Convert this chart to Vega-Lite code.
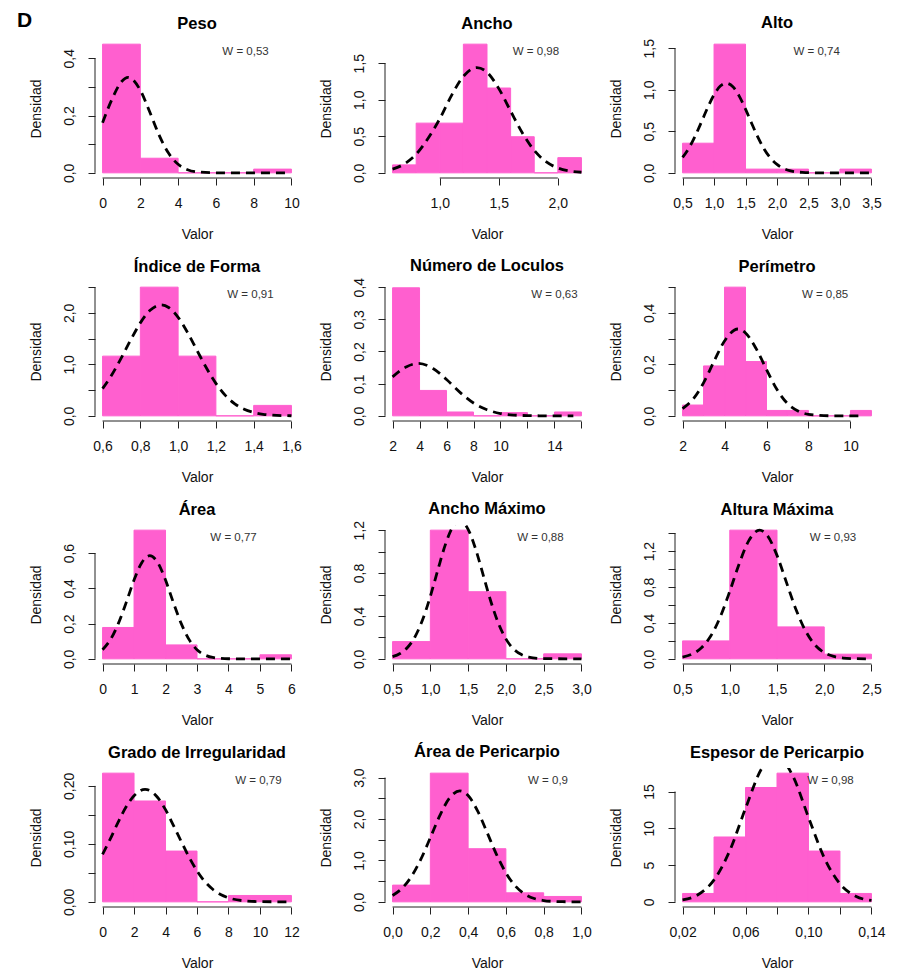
{
  "$schema": "https://vega.github.io/schema/vega-lite/v6.json",
  "autosize": {"type": "pad"},
  "padding": {"left": 17, "top": 10, "right": 5, "bottom": 5},
  "background": "white",
  "title": {"text": "D", "anchor": "start", "frame": "bounds", "fontSize": 21, "fontWeight": "bold", "offset": -16.5, "dx": -12},
  "bounds": "flush",
  "columns": 3,
  "spacing": {"row": 104, "column": 86},
  "datasets": {
    "h1": [{"x0":0,"x1":2,"d":0.449},{"x0":2,"x1":4,"d":0.051},{"x0":4,"x1":6,"d":0},{"x0":6,"x1":8,"d":0},{"x0":8,"x1":10,"d":0.013}],
    "c1": [{"x":0,"d":0.175},{"x":0.5,"d":0.257},{"x":1,"d":0.318},{"x":1.36,"d":0.333},{"x":2,"d":0.288},{"x":2.5,"d":0.212},{"x":3,"d":0.131},{"x":3.5,"d":0.068},{"x":4,"d":0.030},{"x":4.5,"d":0.011},{"x":5,"d":0.0033},{"x":6,"d":0.0002},{"x":7,"d":0},{"x":8,"d":0},{"x":9,"d":0},{"x":9.7,"d":0}],
    "h2": [{"x0":0.6,"x1":0.8,"d":0.109},{"x0":0.8,"x1":1.0,"d":0.68},{"x0":1.0,"x1":1.2,"d":0.68},{"x0":1.2,"x1":1.4,"d":1.76},{"x0":1.4,"x1":1.6,"d":1.16},{"x0":1.6,"x1":1.8,"d":0.494},{"x0":1.8,"x1":2.0,"d":0},{"x0":2.0,"x1":2.2,"d":0.208}],
    "c2": [{"x":0.6,"d":0.051},{"x":0.7,"d":0.122},{"x":0.8,"d":0.255},{"x":0.9,"d":0.47},{"x":1.0,"d":0.74},{"x":1.1,"d":1.06},{"x":1.2,"d":1.32},{"x":1.314,"d":1.44},{"x":1.4,"d":1.377},{"x":1.5,"d":1.152},{"x":1.6,"d":0.845},{"x":1.7,"d":0.544},{"x":1.8,"d":0.307},{"x":1.9,"d":0.152},{"x":2.0,"d":0.066},{"x":2.1,"d":0.025},{"x":2.2,"d":0.008}],
    "h3": [{"x0":0.5,"x1":1.0,"d":0.357},{"x0":1.0,"x1":1.5,"d":1.549},{"x0":1.5,"x1":2.0,"d":0.045},{"x0":2.0,"x1":2.5,"d":0.045},{"x0":2.5,"x1":3.0,"d":0},{"x0":3.0,"x1":3.5,"d":0.045}],
    "c3": [{"x":0.5,"d":0.186},{"x":0.6,"d":0.297},{"x":0.7,"d":0.443},{"x":0.8,"d":0.612},{"x":0.9,"d":0.787},{"x":1.0,"d":0.94},{"x":1.1,"d":1.045},{"x":1.194,"d":1.079},{"x":1.3,"d":1.036},{"x":1.4,"d":0.924},{"x":1.5,"d":0.767},{"x":1.6,"d":0.591},{"x":1.7,"d":0.424},{"x":1.8,"d":0.282},{"x":1.9,"d":0.175},{"x":2.0,"d":0.101},{"x":2.2,"d":0.027},{"x":2.4,"d":0.0053},{"x":2.6,"d":0.0007},{"x":3.0,"d":0},{"x":3.5,"d":0}],
    "h4": [{"x0":0.6,"x1":0.8,"d":1.16},{"x0":0.8,"x1":1.0,"d":2.5},{"x0":1.0,"x1":1.2,"d":1.16},{"x0":1.2,"x1":1.4,"d":0},{"x0":1.4,"x1":1.6,"d":0.203}],
    "c4": [{"x":0.6,"d":0.529},{"x":0.65,"d":0.803},{"x":0.7,"d":1.132},{"x":0.75,"d":1.482},{"x":0.8,"d":1.806},{"x":0.85,"d":2.045},{"x":0.91,"d":2.155},{"x":0.95,"d":2.105},{"x":1.0,"d":1.914},{"x":1.05,"d":1.619},{"x":1.1,"d":1.272},{"x":1.15,"d":0.929},{"x":1.2,"d":0.631},{"x":1.25,"d":0.398},{"x":1.3,"d":0.234},{"x":1.35,"d":0.127},{"x":1.4,"d":0.065},{"x":1.45,"d":0.030},{"x":1.5,"d":0.013},{"x":1.6,"d":0.002}],
    "h5": [{"x0":2,"x1":4,"d":0.398},{"x0":4,"x1":6,"d":0.079},{"x0":6,"x1":8,"d":0.012},{"x0":8,"x1":10,"d":0},{"x0":10,"x1":12,"d":0.010},{"x0":12,"x1":14,"d":0},{"x0":14,"x1":16,"d":0.012}],
    "c5": [{"x":2,"d":0.121},{"x":3,"d":0.152},{"x":3.9,"d":0.163},{"x":5,"d":0.147},{"x":6,"d":0.113},{"x":7,"d":0.073},{"x":8,"d":0.040},{"x":9,"d":0.019},{"x":10,"d":0.0073},{"x":11,"d":0.0024},{"x":12,"d":0.0007},{"x":13,"d":0.0002},{"x":14,"d":0},{"x":15.4,"d":0}],
    "h6": [{"x0":2,"x1":3,"d":0.042},{"x0":3,"x1":4,"d":0.194},{"x0":4,"x1":5,"d":0.5},{"x0":5,"x1":6,"d":0.211},{"x0":6,"x1":7,"d":0.021},{"x0":7,"x1":8,"d":0.021},{"x0":8,"x1":9,"d":0},{"x0":9,"x1":10,"d":0},{"x0":10,"x1":11,"d":0.021}],
    "c6": [{"x":2,"d":0.028},{"x":2.5,"d":0.065},{"x":3,"d":0.128},{"x":3.5,"d":0.212},{"x":4,"d":0.291},{"x":4.64,"d":0.3375},{"x":5,"d":0.322},{"x":5.5,"d":0.262},{"x":6,"d":0.18},{"x":6.5,"d":0.102},{"x":7,"d":0.048},{"x":7.5,"d":0.019},{"x":8,"d":0.006},{"x":9,"d":0.0004},{"x":10.5,"d":0}],
    "h7": [{"x0":0,"x1":1,"d":0.178},{"x0":1,"x1":2,"d":0.73},{"x0":2,"x1":3,"d":0.079},{"x0":3,"x1":4,"d":0},{"x0":4,"x1":5,"d":0},{"x0":5,"x1":6,"d":0.023}],
    "c7": [{"x":0,"d":0.052},{"x":0.25,"d":0.109},{"x":0.5,"d":0.2},{"x":0.75,"d":0.319},{"x":1,"d":0.447},{"x":1.25,"d":0.547},{"x":1.5,"d":0.585},{"x":1.75,"d":0.547},{"x":2,"d":0.447},{"x":2.25,"d":0.319},{"x":2.5,"d":0.2},{"x":2.75,"d":0.109},{"x":3,"d":0.052},{"x":3.25,"d":0.022},{"x":3.5,"d":0.008},{"x":4,"d":0.0007},{"x":5,"d":0},{"x":6,"d":0}],
    "h8": [{"x0":0.5,"x1":1.0,"d":0.161},{"x0":1.0,"x1":1.5,"d":1.2},{"x0":1.5,"x1":2.0,"d":0.626},{"x0":2.0,"x1":2.5,"d":0},{"x0":2.5,"x1":3.0,"d":0.0465}],
    "c8": [{"x":0.5,"d":0.021},{"x":0.6,"d":0.05},{"x":0.7,"d":0.108},{"x":0.8,"d":0.21},{"x":0.9,"d":0.369},{"x":1.0,"d":0.583},{"x":1.1,"d":0.831},{"x":1.2,"d":1.067},{"x":1.3,"d":1.234},{"x":1.39,"d":1.287},{"x":1.5,"d":1.208},{"x":1.6,"d":1.023},{"x":1.7,"d":0.781},{"x":1.8,"d":0.537},{"x":1.9,"d":0.333},{"x":2.0,"d":0.186},{"x":2.1,"d":0.093},{"x":2.2,"d":0.042},{"x":2.3,"d":0.017},{"x":2.5,"d":0.002},{"x":3.0,"d":0}],
    "h9": [{"x0":0.5,"x1":1.0,"d":0.2},{"x0":1.0,"x1":1.5,"d":1.433},{"x0":1.5,"x1":2.0,"d":0.356},{"x0":2.0,"x1":2.5,"d":0.052}],
    "c9": [{"x":0.5,"d":0.019},{"x":0.6,"d":0.052},{"x":0.7,"d":0.124},{"x":0.8,"d":0.257},{"x":0.9,"d":0.469},{"x":1.0,"d":0.752},{"x":1.1,"d":1.06},{"x":1.2,"d":1.314},{"x":1.316,"d":1.433},{"x":1.4,"d":1.369},{"x":1.5,"d":1.152},{"x":1.6,"d":0.851},{"x":1.7,"d":0.553},{"x":1.8,"d":0.316},{"x":1.9,"d":0.158},{"x":2.0,"d":0.07},{"x":2.1,"d":0.027},{"x":2.2,"d":0.0092},{"x":2.3,"d":0.0027},{"x":2.5,"d":0.0002}],
    "h10": [{"x0":0,"x1":2,"d":0.222},{"x0":2,"x1":4,"d":0.174},{"x0":4,"x1":6,"d":0.0876},{"x0":6,"x1":8,"d":0},{"x0":8,"x1":10,"d":0.011},{"x0":10,"x1":12,"d":0.011}],
    "c10": [{"x":0,"d":0.082},{"x":0.5,"d":0.109},{"x":1,"d":0.138},{"x":1.5,"d":0.164},{"x":2,"d":0.183},{"x":2.7,"d":0.194},{"x":3,"d":0.192},{"x":3.5,"d":0.18},{"x":4,"d":0.159},{"x":4.5,"d":0.132},{"x":5,"d":0.104},{"x":5.5,"d":0.077},{"x":6,"d":0.0535},{"x":6.5,"d":0.035},{"x":7,"d":0.0218},{"x":7.5,"d":0.0127},{"x":8,"d":0.007},{"x":9,"d":0.0018},{"x":10,"d":0.0004},{"x":11,"d":0.0001},{"x":12,"d":0}],
    "h11": [{"x0":0,"x1":0.2,"d":0.404},{"x0":0.2,"x1":0.4,"d":3.107},{"x0":0.4,"x1":0.6,"d":1.283},{"x0":0.6,"x1":0.8,"d":0.218},{"x0":0.8,"x1":1.0,"d":0.13}],
    "c11": [{"x":0,"d":0.154},{"x":0.05,"d":0.325},{"x":0.1,"d":0.613},{"x":0.15,"d":1.03},{"x":0.2,"d":1.549},{"x":0.25,"d":2.081},{"x":0.3,"d":2.497},{"x":0.356,"d":2.68},{"x":0.4,"d":2.566},{"x":0.45,"d":2.196},{"x":0.5,"d":1.68},{"x":0.55,"d":1.148},{"x":0.6,"d":0.701},{"x":0.65,"d":0.382},{"x":0.7,"d":0.187},{"x":0.75,"d":0.081},{"x":0.8,"d":0.032},{"x":0.85,"d":0.011},{"x":0.9,"d":0.0034},{"x":1.0,"d":0.0002}],
    "h12": [{"x0":0.02,"x1":0.04,"d":1.14},{"x0":0.04,"x1":0.06,"d":8.82},{"x0":0.06,"x1":0.08,"d":15.55},{"x0":0.08,"x1":0.10,"d":17.5},{"x0":0.10,"x1":0.12,"d":6.91},{"x0":0.12,"x1":0.14,"d":1.14}],
    "c12": [{"x":0.02,"d":0.257},{"x":0.03,"d":0.992},{"x":0.04,"d":2.98},{"x":0.05,"d":6.97},{"x":0.06,"d":12.71},{"x":0.07,"d":18.03},{"x":0.079,"d":19.95},{"x":0.09,"d":17.15},{"x":0.1,"d":11.5},{"x":0.11,"d":6.0},{"x":0.12,"d":2.44},{"x":0.13,"d":0.77},{"x":0.14,"d":0.19}]
  },
  "concat": [
    {"title": "Peso", "width": 204, "height": 139, "layer": [
      {"data": {"name": "h1"}, "mark": "rect", "encoding": {
        "x": {"field": "x0", "type": "quantitative", "title": "Valor", "scale": {"domain": [-0.4, 10.4], "nice": false, "zero": false}, "axis": {"tickCount": 30, "labelOverlap": false, "values": [0,2,4,6,8,10], "format": "d"}},
        "x2": {"field": "x1"},
        "y": {"field": "d", "type": "quantitative", "title": "Densidad", "scale": {"domain": [-0.018, 0.467], "nice": false, "zero": false}, "axis": {"tickCount": 30, "labelOverlap": false, "values": [0,0.1,0.2,0.3,0.4], "format": ".1f", "labelExpr": "indexof([0.1,0.3], datum.value) >= 0 ? '' : datum.label"}},
        "y2": {"datum": 0}}},
      {"data": {"name": "c1"}, "mark": {"type": "line", "clip": true}, "encoding": {"x": {"field": "x", "type": "quantitative", "title": "Valor"}, "y": {"field": "d", "type": "quantitative", "title": "Densidad"}}},
      {"data": {"values": [{"w": "W = 0,53"}]}, "mark": "text", "encoding": {"x": {"datum": 7.57}, "y": {"datum": 0.423}, "text": {"field": "w"}}},
      {"data": {"values": [{}]}, "mark": "rule", "encoding": {"x": {"datum": 0}, "x2": {"datum": 10}, "y": {"datum": -0.018}}},
      {"data": {"values": [{}]}, "mark": "rule", "encoding": {"x": {"datum": -0.4}, "y": {"datum": 0}, "y2": {"datum": 0.4}}}
    ]},
    {"title": "Ancho", "width": 204, "height": 139, "layer": [
      {"data": {"name": "h2"}, "mark": "rect", "encoding": {
        "x": {"field": "x0", "type": "quantitative", "title": "Valor", "scale": {"domain": [0.536, 2.264], "nice": false, "zero": false}, "axis": {"tickCount": 30, "labelOverlap": false, "values": [1,1.5,2], "format": ".1f"}},
        "x2": {"field": "x1"},
        "y": {"field": "d", "type": "quantitative", "title": "Densidad", "scale": {"domain": [-0.0704, 1.8304], "nice": false, "zero": false}, "axis": {"tickCount": 30, "labelOverlap": false, "values": [0,0.5,1,1.5], "format": ".1f"}},
        "y2": {"datum": 0}}},
      {"data": {"name": "c2"}, "mark": {"type": "line", "clip": true}, "encoding": {"x": {"field": "x", "type": "quantitative", "title": "Valor"}, "y": {"field": "d", "type": "quantitative", "title": "Densidad"}}},
      {"data": {"values": [{"w": "W = 0,98"}]}, "mark": "text", "encoding": {"x": {"datum": 1.815}, "y": {"datum": 1.659}, "text": {"field": "w"}}},
      {"data": {"values": [{}]}, "mark": "rule", "encoding": {"x": {"datum": 1}, "x2": {"datum": 2}, "y": {"datum": -0.0704}}},
      {"data": {"values": [{}]}, "mark": "rule", "encoding": {"x": {"datum": 0.536}, "y": {"datum": 0}, "y2": {"datum": 1.5}}}
    ]},
    {"title": "Alto", "width": 204, "height": 139, "layer": [
      {"data": {"name": "h3"}, "mark": "rect", "encoding": {
        "x": {"field": "x0", "type": "quantitative", "title": "Valor", "scale": {"domain": [0.38, 3.62], "nice": false, "zero": false}, "axis": {"tickCount": 30, "labelOverlap": false, "values": [0.5,1,1.5,2,2.5,3,3.5], "format": ".1f"}},
        "x2": {"field": "x1"},
        "y": {"field": "d", "type": "quantitative", "title": "Densidad", "scale": {"domain": [-0.062, 1.611], "nice": false, "zero": false}, "axis": {"tickCount": 30, "labelOverlap": false, "values": [0,0.5,1,1.5], "format": ".1f"}},
        "y2": {"datum": 0}}},
      {"data": {"name": "c3"}, "mark": {"type": "line", "clip": true}, "encoding": {"x": {"field": "x", "type": "quantitative", "title": "Valor"}, "y": {"field": "d", "type": "quantitative", "title": "Densidad"}}},
      {"data": {"values": [{"w": "W = 0,74"}]}, "mark": "text", "encoding": {"x": {"datum": 2.63}, "y": {"datum": 1.46}, "text": {"field": "w"}}},
      {"data": {"values": [{}]}, "mark": "rule", "encoding": {"x": {"datum": 0.5}, "x2": {"datum": 3.5}, "y": {"datum": -0.062}}},
      {"data": {"values": [{}]}, "mark": "rule", "encoding": {"x": {"datum": 0.38}, "y": {"datum": 0}, "y2": {"datum": 1.5}}}
    ]},
    {"title": "Índice de Forma", "width": 204, "height": 139, "layer": [
      {"data": {"name": "h4"}, "mark": "rect", "encoding": {
        "x": {"field": "x0", "type": "quantitative", "title": "Valor", "scale": {"domain": [0.56, 1.64], "nice": false, "zero": false}, "axis": {"tickCount": 30, "labelOverlap": false, "values": [0.6,0.8,1,1.2,1.4,1.6], "format": ".1f"}},
        "x2": {"field": "x1"},
        "y": {"field": "d", "type": "quantitative", "title": "Densidad", "scale": {"domain": [-0.1, 2.6], "nice": false, "zero": false}, "axis": {"tickCount": 30, "labelOverlap": false, "values": [0,0.5,1,1.5,2,2.5], "format": ".1f", "labelExpr": "indexof([0.5,1.5,2.5], datum.value) >= 0 ? '' : datum.label"}},
        "y2": {"datum": 0}}},
      {"data": {"name": "c4"}, "mark": {"type": "line", "clip": true}, "encoding": {"x": {"field": "x", "type": "quantitative", "title": "Valor"}, "y": {"field": "d", "type": "quantitative", "title": "Densidad"}}},
      {"data": {"values": [{"w": "W = 0,91"}]}, "mark": "text", "encoding": {"x": {"datum": 1.383}, "y": {"datum": 2.357}, "text": {"field": "w"}}},
      {"data": {"values": [{}]}, "mark": "rule", "encoding": {"x": {"datum": 0.6}, "x2": {"datum": 1.6}, "y": {"datum": -0.1}}},
      {"data": {"values": [{}]}, "mark": "rule", "encoding": {"x": {"datum": 0.56}, "y": {"datum": 0}, "y2": {"datum": 2.5}}}
    ]},
    {"title": {"text": "Número de Loculos", "offset": 2.5}, "width": 204, "height": 139, "layer": [
      {"data": {"name": "h5"}, "mark": "rect", "encoding": {
        "x": {"field": "x0", "type": "quantitative", "title": "Valor", "scale": {"domain": [1.44, 16.56], "nice": false, "zero": false}, "axis": {"tickCount": 30, "labelOverlap": false, "values": [2,4,6,8,10,12,14,16], "format": "d", "labelExpr": "indexof([12,16], datum.value) >= 0 ? '' : datum.label"}},
        "x2": {"field": "x1"},
        "y": {"field": "d", "type": "quantitative", "title": "Densidad", "scale": {"domain": [-0.016, 0.416], "nice": false, "zero": false}, "axis": {"tickCount": 30, "labelOverlap": false, "values": [0,0.1,0.2,0.3,0.4], "format": ".1f"}},
        "y2": {"datum": 0}}},
      {"data": {"name": "c5"}, "mark": {"type": "line", "clip": true}, "encoding": {"x": {"field": "x", "type": "quantitative", "title": "Valor"}, "y": {"field": "d", "type": "quantitative", "title": "Densidad"}}},
      {"data": {"values": [{"w": "W = 0,63"}]}, "mark": "text", "encoding": {"x": {"datum": 14.0}, "y": {"datum": 0.377}, "text": {"field": "w"}}},
      {"data": {"values": [{}]}, "mark": "rule", "encoding": {"x": {"datum": 2}, "x2": {"datum": 16}, "y": {"datum": -0.016}}},
      {"data": {"values": [{}]}, "mark": "rule", "encoding": {"x": {"datum": 1.44}, "y": {"datum": 0}, "y2": {"datum": 0.4}}}
    ]},
    {"title": "Perímetro", "width": 204, "height": 139, "layer": [
      {"data": {"name": "h6"}, "mark": "rect", "encoding": {
        "x": {"field": "x0", "type": "quantitative", "title": "Valor", "scale": {"domain": [1.64, 11.36], "nice": false, "zero": false}, "axis": {"tickCount": 30, "labelOverlap": false, "values": [2,4,6,8,10], "format": "d"}},
        "x2": {"field": "x1"},
        "y": {"field": "d", "type": "quantitative", "title": "Densidad", "scale": {"domain": [-0.02, 0.52], "nice": false, "zero": false}, "axis": {"tickCount": 30, "labelOverlap": false, "values": [0,0.1,0.2,0.3,0.4,0.5], "format": ".1f", "labelExpr": "indexof([0.1,0.3,0.5], datum.value) >= 0 ? '' : datum.label"}},
        "y2": {"datum": 0}}},
      {"data": {"name": "c6"}, "mark": {"type": "line", "clip": true}, "encoding": {"x": {"field": "x", "type": "quantitative", "title": "Valor"}, "y": {"field": "d", "type": "quantitative", "title": "Densidad"}}},
      {"data": {"values": [{"w": "W = 0,85"}]}, "mark": "text", "encoding": {"x": {"datum": 8.79}, "y": {"datum": 0.471}, "text": {"field": "w"}}},
      {"data": {"values": [{}]}, "mark": "rule", "encoding": {"x": {"datum": 2}, "x2": {"datum": 10}, "y": {"datum": -0.02}}},
      {"data": {"values": [{}]}, "mark": "rule", "encoding": {"x": {"datum": 1.64}, "y": {"datum": 0}, "y2": {"datum": 0.5}}}
    ]},
    {"title": "Área", "width": 204, "height": 139, "layer": [
      {"data": {"name": "h7"}, "mark": "rect", "encoding": {
        "x": {"field": "x0", "type": "quantitative", "title": "Valor", "scale": {"domain": [-0.24, 6.24], "nice": false, "zero": false}, "axis": {"tickCount": 30, "labelOverlap": false, "values": [0,1,2,3,4,5,6], "format": "d"}},
        "x2": {"field": "x1"},
        "y": {"field": "d", "type": "quantitative", "title": "Densidad", "scale": {"domain": [-0.0292, 0.7592], "nice": false, "zero": false}, "axis": {"tickCount": 30, "labelOverlap": false, "values": [0,0.2,0.4,0.6], "format": ".1f"}},
        "y2": {"datum": 0}}},
      {"data": {"name": "c7"}, "mark": {"type": "line", "clip": true}, "encoding": {"x": {"field": "x", "type": "quantitative", "title": "Valor"}, "y": {"field": "d", "type": "quantitative", "title": "Densidad"}}},
      {"data": {"values": [{"w": "W = 0,77"}]}, "mark": "text", "encoding": {"x": {"datum": 4.16}, "y": {"datum": 0.688}, "text": {"field": "w"}}},
      {"data": {"values": [{}]}, "mark": "rule", "encoding": {"x": {"datum": 0}, "x2": {"datum": 6}, "y": {"datum": -0.0292}}},
      {"data": {"values": [{}]}, "mark": "rule", "encoding": {"x": {"datum": -0.24}, "y": {"datum": 0}, "y2": {"datum": 0.6}}}
    ]},
    {"title": {"text": "Ancho Máximo", "offset": 2.5}, "width": 204, "height": 139, "layer": [
      {"data": {"name": "h8"}, "mark": "rect", "encoding": {
        "x": {"field": "x0", "type": "quantitative", "title": "Valor", "scale": {"domain": [0.4, 3.1], "nice": false, "zero": false}, "axis": {"tickCount": 30, "labelOverlap": false, "values": [0.5,1,1.5,2,2.5,3], "format": ".1f"}},
        "x2": {"field": "x1"},
        "y": {"field": "d", "type": "quantitative", "title": "Densidad", "scale": {"domain": [-0.048, 1.248], "nice": false, "zero": false}, "axis": {"tickCount": 30, "labelOverlap": false, "values": [0,0.2,0.4,0.6,0.8,1,1.2], "format": ".1f", "labelExpr": "indexof([0.2,0.6,1], datum.value) >= 0 ? '' : datum.label"}},
        "y2": {"datum": 0}}},
      {"data": {"name": "c8"}, "mark": {"type": "line", "clip": true}, "encoding": {"x": {"field": "x", "type": "quantitative", "title": "Valor"}, "y": {"field": "d", "type": "quantitative", "title": "Densidad"}}},
      {"data": {"values": [{"w": "W = 0,88"}]}, "mark": "text", "encoding": {"x": {"datum": 2.458}, "y": {"datum": 1.131}, "text": {"field": "w"}}},
      {"data": {"values": [{}]}, "mark": "rule", "encoding": {"x": {"datum": 0.5}, "x2": {"datum": 3}, "y": {"datum": -0.048}}},
      {"data": {"values": [{}]}, "mark": "rule", "encoding": {"x": {"datum": 0.4}, "y": {"datum": 0}, "y2": {"datum": 1.2}}}
    ]},
    {"title": "Altura Máxima", "width": 204, "height": 139, "layer": [
      {"data": {"name": "h9"}, "mark": "rect", "encoding": {
        "x": {"field": "x0", "type": "quantitative", "title": "Valor", "scale": {"domain": [0.42, 2.58], "nice": false, "zero": false}, "axis": {"tickCount": 30, "labelOverlap": false, "values": [0.5,1,1.5,2,2.5], "format": ".1f"}},
        "x2": {"field": "x1"},
        "y": {"field": "d", "type": "quantitative", "title": "Densidad", "scale": {"domain": [-0.0573, 1.4903], "nice": false, "zero": false}, "axis": {"tickCount": 30, "labelOverlap": false, "values": [0,0.2,0.4,0.6,0.8,1,1.2,1.4], "format": ".1f", "labelExpr": "indexof([0.2,0.6,1,1.4], datum.value) >= 0 ? '' : datum.label"}},
        "y2": {"datum": 0}}},
      {"data": {"name": "c9"}, "mark": {"type": "line", "clip": true}, "encoding": {"x": {"field": "x", "type": "quantitative", "title": "Valor"}, "y": {"field": "d", "type": "quantitative", "title": "Densidad"}}},
      {"data": {"values": [{"w": "W = 0,93"}]}, "mark": "text", "encoding": {"x": {"datum": 2.093}, "y": {"datum": 1.351}, "text": {"field": "w"}}},
      {"data": {"values": [{}]}, "mark": "rule", "encoding": {"x": {"datum": 0.5}, "x2": {"datum": 2.5}, "y": {"datum": -0.0573}}},
      {"data": {"values": [{}]}, "mark": "rule", "encoding": {"x": {"datum": 0.42}, "y": {"datum": 0}, "y2": {"datum": 1.4}}}
    ]},
    {"title": "Grado de Irregularidad", "width": 204, "height": 139, "layer": [
      {"data": {"name": "h10"}, "mark": "rect", "encoding": {
        "x": {"field": "x0", "type": "quantitative", "title": "Valor", "scale": {"domain": [-0.48, 12.48], "nice": false, "zero": false}, "axis": {"tickCount": 30, "labelOverlap": false, "values": [0,2,4,6,8,10,12], "format": "d"}},
        "x2": {"field": "x1"},
        "y": {"field": "d", "type": "quantitative", "title": "Densidad", "scale": {"domain": [-0.00888, 0.23088], "nice": false, "zero": false}, "axis": {"tickCount": 30, "labelOverlap": false, "values": [0,0.05,0.1,0.15,0.2], "format": ".2f", "labelExpr": "indexof([0.05,0.15], datum.value) >= 0 ? '' : datum.label"}},
        "y2": {"datum": 0}}},
      {"data": {"name": "c10"}, "mark": {"type": "line", "clip": true}, "encoding": {"x": {"field": "x", "type": "quantitative", "title": "Valor"}, "y": {"field": "d", "type": "quantitative", "title": "Densidad"}}},
      {"data": {"values": [{"w": "W = 0,79"}]}, "mark": "text", "encoding": {"x": {"datum": 9.9}, "y": {"datum": 0.2093}, "text": {"field": "w"}}},
      {"data": {"values": [{}]}, "mark": "rule", "encoding": {"x": {"datum": 0}, "x2": {"datum": 12}, "y": {"datum": -0.00888}}},
      {"data": {"values": [{}]}, "mark": "rule", "encoding": {"x": {"datum": -0.48}, "y": {"datum": 0}, "y2": {"datum": 0.2}}}
    ]},
    {"title": "Área de Pericarpio", "width": 204, "height": 139, "layer": [
      {"data": {"name": "h11"}, "mark": "rect", "encoding": {
        "x": {"field": "x0", "type": "quantitative", "title": "Valor", "scale": {"domain": [-0.04, 1.04], "nice": false, "zero": false}, "axis": {"tickCount": 30, "labelOverlap": false, "values": [0,0.2,0.4,0.6,0.8,1], "format": ".1f"}},
        "x2": {"field": "x1"},
        "y": {"field": "d", "type": "quantitative", "title": "Densidad", "scale": {"domain": [-0.1243, 3.2313], "nice": false, "zero": false}, "axis": {"tickCount": 30, "labelOverlap": false, "values": [0,0.5,1,1.5,2,2.5,3], "format": ".1f", "labelExpr": "indexof([0.5,1.5,2.5], datum.value) >= 0 ? '' : datum.label"}},
        "y2": {"datum": 0}}},
      {"data": {"name": "c11"}, "mark": {"type": "line", "clip": true}, "encoding": {"x": {"field": "x", "type": "quantitative", "title": "Valor"}, "y": {"field": "d", "type": "quantitative", "title": "Densidad"}}},
      {"data": {"values": [{"w": "W = 0,9"}]}, "mark": "text", "encoding": {"x": {"datum": 0.823}, "y": {"datum": 2.929}, "text": {"field": "w"}}},
      {"data": {"values": [{}]}, "mark": "rule", "encoding": {"x": {"datum": 0}, "x2": {"datum": 1}, "y": {"datum": -0.1243}}},
      {"data": {"values": [{}]}, "mark": "rule", "encoding": {"x": {"datum": -0.04}, "y": {"datum": 0}, "y2": {"datum": 3}}}
    ]},
    {"title": "Espesor de Pericarpio", "width": 204, "height": 139, "layer": [
      {"data": {"name": "h12"}, "mark": "rect", "encoding": {
        "x": {"field": "x0", "type": "quantitative", "title": "Valor", "scale": {"domain": [0.0152, 0.1448], "nice": false, "zero": false}, "axis": {"tickCount": 30, "labelOverlap": false, "values": [0.02,0.04,0.06,0.08,0.1,0.12,0.14], "format": ".2f", "labelExpr": "indexof([0.04,0.08,0.12], datum.value) >= 0 ? '' : datum.label"}},
        "x2": {"field": "x1"},
        "y": {"field": "d", "type": "quantitative", "title": "Densidad", "scale": {"domain": [-0.7, 18.2], "nice": false, "zero": false}, "axis": {"tickCount": 30, "labelOverlap": false, "values": [0,5,10,15], "format": "d"}},
        "y2": {"datum": 0}}},
      {"data": {"name": "c12"}, "mark": {"type": "line", "clip": true}, "encoding": {"x": {"field": "x", "type": "quantitative", "title": "Valor"}, "y": {"field": "d", "type": "quantitative", "title": "Densidad"}}},
      {"data": {"values": [{"w": "W = 0,98"}]}, "mark": "text", "encoding": {"x": {"datum": 0.114}, "y": {"datum": 16.5}, "text": {"field": "w"}}},
      {"data": {"values": [{}]}, "mark": "rule", "encoding": {"x": {"datum": 0.02}, "x2": {"datum": 0.14}, "y": {"datum": -0.7}}},
      {"data": {"values": [{}]}, "mark": "rule", "encoding": {"x": {"datum": 0.0152}, "y": {"datum": 0}, "y2": {"datum": 15}}}
    ]}
  ],
  "config": {
    "locale": {"number": {"decimal": ",", "thousands": ".", "grouping": [3], "currency": ["", " €"]}},
    "font": "Liberation Sans",
    "view": {"stroke": null},
    "axis": {"grid": false, "domain": false, "tickColor": "#222", "tickSize": 7, "tickWidth": 1, "labelFont": "Liberation Sans", "labelFontSize": 14, "labelColor": "#111", "titleFont": "Liberation Sans", "titleFontSize": 14, "titleFontWeight": "normal", "titleColor": "#111", "labelOverlap": false, "labelFlush": false},
    "axisX": {"labelPadding": 11, "titlePadding": 17},
    "axisY": {"labelPadding": 12, "titlePadding": 19, "labelAngle": -90, "labelAlign": "center", "labelBaseline": "bottom"},
    "title": {"font": "Liberation Sans", "fontSize": 16.5, "fontWeight": "bold", "color": "#000", "offset": 7, "baseline": "alphabetic", "anchor": "middle"},
    "rect": {"color": "#FF5FCF", "stroke": "#FF5FCF", "strokeWidth": 1},
    "line": {"color": "#000", "strokeWidth": 2.8, "strokeDash": [9, 6], "interpolate": "monotone"},
    "rule": {"color": "#222", "strokeWidth": 1},
    "text": {"font": "Liberation Sans", "fontSize": 11.5, "color": "#333", "align": "center", "baseline": "middle"}
  }
}
